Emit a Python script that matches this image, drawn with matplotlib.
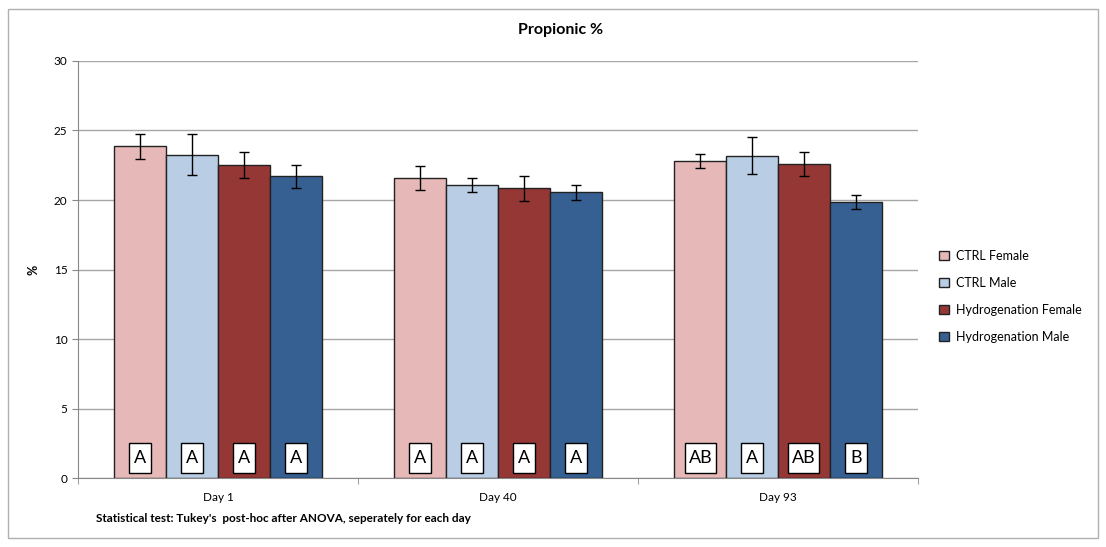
import numpy as np
import matplotlib
matplotlib.use("Agg")
from matplotlib import pyplot as plt
from matplotlib.patches import Rectangle

plt.rcParams['font.family'] = ['Lato', 'DejaVu Sans']

days = ['Day 1', 'Day 40', 'Day 93']
groups = ['CTRL Female', 'CTRL Male', 'Hydrogenation Female', 'Hydrogenation Male']
colors = ['#E6B9B8', '#B9CDE5', '#953735', '#376092']

# mean and error per group, one entry per day
ctrl_f = [23.85, 21.6, 22.8]
ctrl_m = [23.25, 21.1, 23.2]
hyd_f = [22.5, 20.85, 22.6]
hyd_m = [21.7, 20.55, 19.85]
ctrl_f_err = [0.9, 0.85, 0.5]
ctrl_m_err = [1.47, 0.5, 1.33]
hyd_f_err = [0.93, 0.9, 0.88]
hyd_m_err = [0.82, 0.55, 0.48]

# Tukey letters
ctrl_f_lab = ['A', 'A', 'AB']
ctrl_m_lab = ['A', 'A', 'A']
hyd_f_lab = ['A', 'A', 'AB']
hyd_m_lab = ['A', 'A', 'B']

means = [ctrl_f, ctrl_m, hyd_f, hyd_m]
errs = [ctrl_f_err, ctrl_m_err, hyd_f_err, hyd_m_err]
labs = [ctrl_f_lab, ctrl_m_lab, hyd_f_lab, hyd_m_lab]

fig = plt.figure(figsize=(11.06, 5.47), dpi=100)
ax = fig.add_axes([0.0705, 0.1261, 0.7595, 0.7624])

# outer chart frame
fig.patches.append(Rectangle((8 / 1106, 9 / 547), 1090 / 1106, 529 / 547,
                             transform=fig.transFigure, fill=False,
                             edgecolor='#B0B0B0', linewidth=1))

x = np.arange(len(days))
w = 0.185
for i in range(4):
    pos = x + (i - 1.5) * w
    ax.bar(pos, means[i], w, color=colors[i], edgecolor='#222222', linewidth=1,
           label=groups[i], zorder=3)
    ax.errorbar(pos, means[i], yerr=errs[i], fmt='none', ecolor='black',
                elinewidth=1, capsize=3.5, capthick=1, zorder=4)
    for p, t in zip(pos, labs[i]):
        # letter box, a bit taller than wide
        bw = 0.045 + 0.033 * len(t)
        ax.add_patch(Rectangle((p - bw / 2, 0.38), bw, 2.15, fc='white',
                               ec='black', lw=1, zorder=5))
        ax.text(p, 1.45, t, ha='center', va='center', fontsize=13, zorder=6)

ax.set_xlim(-0.5, 2.5)
ax.set_ylim(0, 30)
ax.set_yticks(range(0, 31, 5))
ax.yaxis.grid(True, color='#A6A6A6', linewidth=1)
ax.set_axisbelow(True)
ax.set_xticks(x)
ax.set_xticklabels(days)
ax.set_xticks([-0.5, 0.5, 1.5, 2.5], minor=True)
ax.tick_params(axis='x', which='major', length=0, pad=10, labelsize=8.5)
ax.tick_params(axis='x', which='minor', length=4, color='#888888')
ax.tick_params(axis='y', length=4, color='#888888', labelsize=8.5)
for s in ['top', 'right']:
    ax.spines[s].set_visible(False)
for s in ['left', 'bottom']:
    ax.spines[s].set_color('#888888')

ax.set_ylabel('%', fontsize=9, fontweight='bold', labelpad=10)
fig.text(0.507, 0.945, 'Propionic %', ha='center', va='center',
         fontsize=11.5, fontweight='bold')
fig.text(0.087, 0.053, "Statistical test: Tukey's  post-hoc after ANOVA, seperately for each day",
         ha='left', va='center', fontsize=8.5, fontweight='bold')

ax.legend(loc='center left', bbox_to_anchor=(1.012, 0.436), frameon=False,
          fontsize=9, handlelength=0.8, handleheight=0.8, labelspacing=1.2,
          handletextpad=0.55)

fig.savefig('out.png', dpi=100)
